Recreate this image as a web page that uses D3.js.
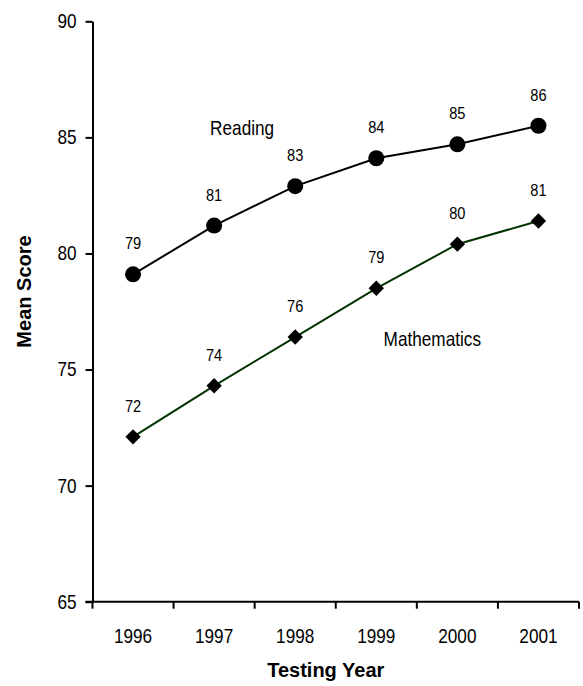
<!DOCTYPE html>
<html>
<head>
<meta charset="utf-8">
<script src="https://cdn.jsdelivr.net/npm/d3@7"></script>
<style>
  html, body { margin: 0; padding: 0; background: #fff; }
  svg { display: block; }
  text { font-family: "Liberation Sans", Arial, sans-serif; fill: #000; }
</style>
</head>
<body>
<svg id="chart" width="583" height="686"></svg>
<script>
const years = ["1996", "1997", "1998", "1999", "2000", "2001"];
const readingValues = [79.1, 81.2, 82.9, 84.1, 84.7, 85.5];
const readingLabels = ["79", "81", "83", "84", "85", "86"];
const mathValues = [72.1, 74.3, 76.4, 78.5, 80.4, 81.4];
const mathLabels = ["72", "74", "76", "79", "80", "81"];
const yTicks = [65, 70, 75, 80, 85, 90];

(function () {
const svg = d3.select("#chart");
const pLeft = 92.5, pRight = 579, pTop = 21.3, pBottom = 601.7;
const font = '"Liberation Sans", Arial, sans-serif';
const squeeze = 0.86; // emulate the narrow typeface of the reference

const x = d3.scaleBand().domain(years).range([pLeft, pRight]);
const y = d3.scaleLinear().domain([65, 90]).range([pBottom, pTop]);
const cx = d => x(d) + x.bandwidth() / 2;

// Y axis
const yAxis = svg.append("g").attr("transform", `translate(${pLeft},0)`)
  .call(d3.axisLeft(y).tickValues(yTicks).tickSize(7).tickPadding(9).tickSizeOuter(0));
yAxis.select(".domain").attr("stroke", "#000").attr("stroke-width", 2);
yAxis.selectAll(".tick line").attr("stroke", "#000").attr("stroke-width", 2);
yAxis.selectAll(".tick text").attr("class", "narrow").style("font-size", "20px").style("font-family", font);

// X axis (labels at band centres, ticks at band boundaries)
const xAxis = svg.append("g").attr("transform", `translate(0,${pBottom})`)
  .call(d3.axisBottom(x).tickSize(0).tickPadding(27).tickSizeOuter(0));
xAxis.select(".domain").attr("stroke", "#000").attr("stroke-width", 2)
  .attr("d", `M${pLeft - 7},0H${pRight}`);
xAxis.selectAll(".tick text").attr("class", "narrow").style("font-size", "20px").style("font-family", font);
const boundaries = years.map(d => x(d)).concat([x(years[years.length - 1]) + x.bandwidth()]);
xAxis.selectAll(".bound").data(boundaries).enter().append("line")
  .attr("x1", d => d).attr("x2", d => d).attr("y1", 0).attr("y2", 7)
  .attr("stroke", "#000").attr("stroke-width", 2);

// Axis titles (regular width, bold)
svg.append("text")
  .attr("x", (pLeft + pRight) / 2 - 10).attr("y", 677)
  .attr("text-anchor", "middle")
  .style("font-size", "20px").style("font-weight", "bold")
  .text("Testing Year");
svg.append("text")
  .attr("transform", `translate(31,${(pTop + pBottom) / 2 - 20}) rotate(-90)`)
  .attr("text-anchor", "middle")
  .style("font-size", "20px").style("font-weight", "bold")
  .text("Mean Score");

const line = d3.line().x(d => cx(d.year)).y(d => y(d.value));
const reading = years.map((yr, i) => ({ year: yr, value: readingValues[i], label: readingLabels[i] }));
const maths = years.map((yr, i) => ({ year: yr, value: mathValues[i], label: mathLabels[i] }));

// Reading
svg.append("path").datum(reading).attr("d", line)
  .attr("fill", "none").attr("stroke", "#000").attr("stroke-width", 2);
svg.selectAll(".rdot").data(reading).enter().append("circle")
  .attr("cx", d => cx(d.year)).attr("cy", d => y(d.value)).attr("r", 8).attr("fill", "#000");
svg.selectAll(".rlab").data(reading).enter().append("text").attr("class", "narrow")
  .attr("x", d => cx(d.year)).attr("y", d => y(d.value) - 25)
  .attr("text-anchor", "middle").style("font-size", "17px").text(d => d.label);

// Mathematics
svg.append("path").datum(maths).attr("d", line)
  .attr("fill", "none").attr("stroke", "#003300").attr("stroke-width", 2);
const diamond = d3.symbol().type(d3.symbolDiamond2).size(150);
svg.selectAll(".mdot").data(maths).enter().append("path")
  .attr("d", diamond)
  .attr("transform", d => `translate(${cx(d.year)},${y(d.value)})`)
  .attr("fill", "#000");
svg.selectAll(".mlab").data(maths).enter().append("text").attr("class", "narrow")
  .attr("x", d => cx(d.year)).attr("y", d => y(d.value) - 25)
  .attr("text-anchor", "middle").style("font-size", "17px").text(d => d.label);

// Series names
svg.append("text").attr("class", "narrow").attr("x", cx("1997") + 28).attr("y", y(85.1))
  .attr("text-anchor", "middle").style("font-size", "20px").text("Reading");
svg.append("text").attr("class", "narrow").attr("x", cx("1999") + 56).attr("y", y(76))
  .attr("text-anchor", "middle").style("font-size", "20px").text("Mathematics");

// Condense the non-bold text horizontally
svg.selectAll("text.narrow").each(function () {
  const t = d3.select(this);
  const xv = +(t.attr("x") || 0);
  t.attr("x", xv / squeeze);
  const tr = t.attr("transform") || "";
  t.attr("transform", (tr + ` scale(${squeeze},1)`).trim());
});
})();
</script>
</body>
</html>
